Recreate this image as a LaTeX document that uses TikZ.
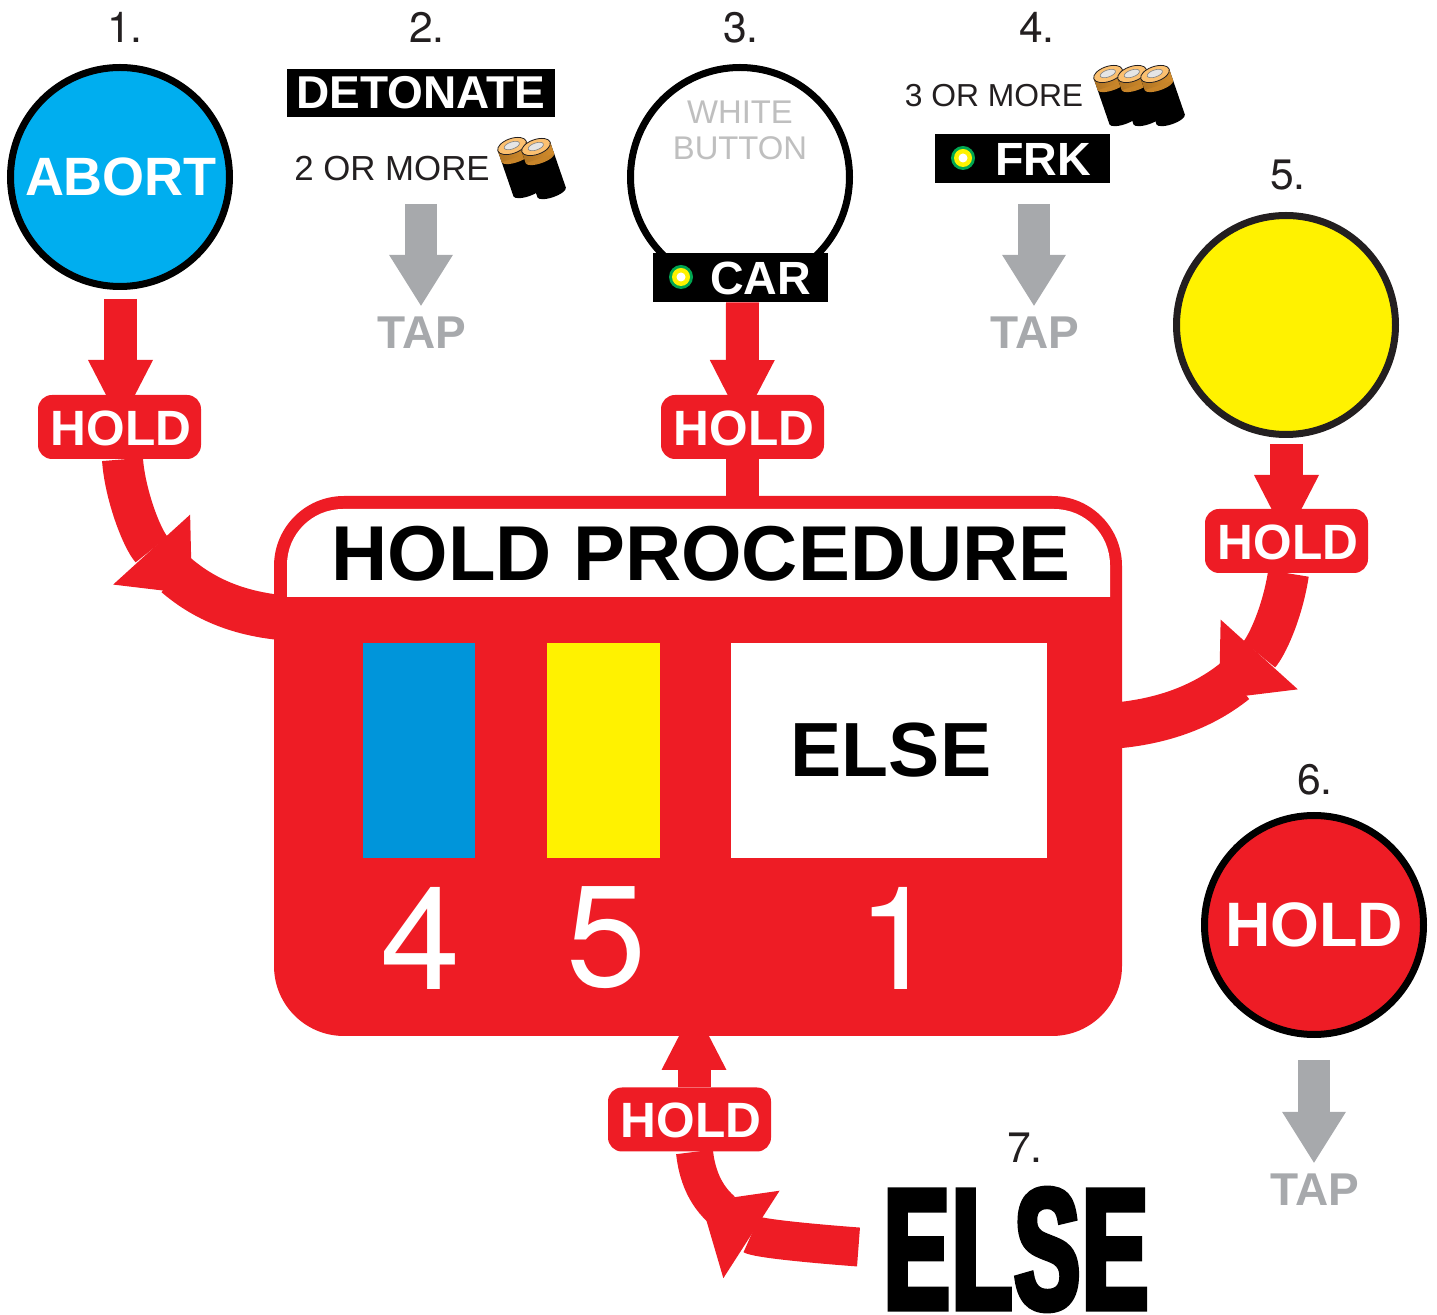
\documentclass[tikz,border=0pt]{standalone}
\usepackage{fontspec}
\setmainfont{Liberation Sans}
\newfontfamily\heavyfont[FakeBold=3.5,FakeStretch=0.57,LetterSpace=1.5]{Liberation Sans Bold}
\newfontfamily\digitfont{TeX Gyre Heros}
\usetikzlibrary{arrows.meta, backgrounds}
\definecolor{holdred}{HTML}{EE1C25}
\definecolor{tapgrey}{HTML}{A7A9AC}
\definecolor{ink}{HTML}{231F20}
\definecolor{abortblue}{HTML}{00AEEF}
\definecolor{stripblue}{HTML}{0095DA}
\definecolor{signyellow}{HTML}{FFF200}
\definecolor{litgreen}{HTML}{00A651}
\definecolor{cellorange}{HTML}{F9A533}
\tikzset{
    holdarrow/.style={draw=holdred, line width=16.5pt, -{Triangle[length=31.5pt,width=32.5pt,line width=0pt]}},
    holdbend/.style={draw=holdred, line width=#1, -{Triangle[length=30pt,width=52pt,line width=0pt]}},
    holdtail/.style={draw=holdred, line width=#1},
    taparrow/.style={draw=tapgrey, line width=16pt, -{Triangle[length=25.5pt,width=32pt,line width=0pt]}},
    holdlabel/.style={fill=holdred, text=white, font=\bfseries\fontsize{24.8}{26}\selectfont, rounded corners=7pt, minimum width=81.5pt, minimum height=32pt, inner sep=0pt, text height=18.5pt, execute at begin node=\hspace*{1.5pt}},
    taplabel/.style={text=tapgrey, font=\bfseries\fontsize{23}{25}\selectfont, inner sep=5.5pt},
    stepnum/.style={text=ink, font=\digitfont\fontsize{21.3}{23}\selectfont, inner sep=0pt},
    bigbutton/.style={circle, draw=#1, line width=3.5pt, minimum size=109.5pt, inner sep=0pt},
    darktag/.style={fill=black, text=white, inner sep=0pt, font=\bfseries\fontsize{23.3}{25}\selectfont},
    bigdigit/.style={text=white, inner sep=0pt, font=\digitfont\fontsize{72}{74}\selectfont},
    battery/.pic={
        \fill[black] (0,48) ellipse [x radius=15, y radius=5];
        \shade[left color=black, middle color=black!70, right color=black] (-15,0) rectangle (15,48);
        \fill[cellorange!80!black] (0,12) ellipse [x radius=15, y radius=5];
        \shade[left color=cellorange!70!black, middle color=cellorange, right color=cellorange!85!black] (-15,0) rectangle (15,12);
        \draw[ink, fill=cellorange!70!white, line width=0.4pt] (0,0) ellipse [x radius=15, y radius=7.5];
        \draw[black!50, fill=black!10, line width=0.3pt] (0,-0.5) ellipse [x radius=8, y radius=3.5];
    },
    litlamp/.pic={
        \fill[litgreen] (0,0) circle [radius=12];
        \fill[signyellow] (0,0) circle [radius=9];
        \fill[white] (0,0) circle [radius=4.5];
    }
}
\begin{document}
\begin{tikzpicture}[x=0.5pt, y=-0.5pt]
    \useasboundingbox (0,0) rectangle (1437,1315);

    % Step numbers
    \node[stepnum] (numA) at (125,27.5) {1.};
    \node[stepnum] (numB) at (427,27.5) {2.};
    \node[stepnum] (numC) at (741,27.5) {3.};
    \node[stepnum] (numD) at (1037,27.5) {4.};
    \node[stepnum] (numE) at (1288,175.5) {5.};
    \node[stepnum] (numF) at (1315,779.5) {6.};
    \node[stepnum] (numG) at (1025,1147.5) {7.};

    % Buttons
    \node[bigbutton=black, fill=abortblue, text=white, font=\bfseries\fontsize{27}{29}\selectfont] (abort) at (120,177) {\hspace*{1pt}ABORT};
    \node[bigbutton=black, fill=white] (white) at (740,177) {};
    \node[text=black!25, align=center, inner sep=0pt, font=\fontsize{16.4}{18}\selectfont] (whitetext) at (740,130) {WHITE\\BUTTON};
    \node[bigbutton=ink, fill=signyellow] (yellow) at (1286,325) {};
    \node[bigbutton=black, fill=holdred, text=white, font=\bfseries\fontsize{31.4}{33}\selectfont] (red) at (1314,925) {HOLD};

    % Indicators and batteries
    \node[darktag, minimum width=134pt, minimum height=24pt, font=\bfseries\fontsize{23}{24}\selectfont] (detonate) at (421,93) {DETONATE};
    \node[text=ink, inner sep=0pt, font=\fontsize{17.4}{19}\selectfont] (moreB) at (392,168.5) {2 OR MORE};
    \pic[rotate=19] at (512,146) {battery};
    \pic[rotate=19] at (536,147) {battery};
    \node[text=ink, inner sep=0pt, font=\fontsize{15.9}{18}\selectfont] (moreD) at (994,96) {3 OR MORE};
    \pic[rotate=19] at (1108,74) {battery};
    \pic[rotate=19] at (1132,74) {battery};
    \pic[rotate=19] at (1155,74) {battery};
    \node[darktag, minimum width=87.5pt, minimum height=24.5pt] (car) at (740.5,277.5) {};
    \node[darktag, fill=none] (carname) at (760.5,278) {CAR};
    \pic at (681,277) {litlamp};
    \node[darktag, minimum width=87.5pt, minimum height=24.5pt] (frk) at (1022.5,158.5) {};
    \node[darktag, fill=none] (frkname) at (1043,159) {FRK};
    \pic at (963,158) {litlamp};

    % Hold procedure box
    \node[fill=holdred, rounded corners=35pt, minimum width=424pt, minimum height=270pt, inner sep=0pt] (procbox) at (698,766) {};
    \fill[white] (287,597) [rounded corners=28pt] -- (287,509) -- (1110,509) [sharp corners] -- (1110,597) -- cycle;
    \node[text=black, inner sep=0pt, font=\bfseries\fontsize{38.9}{42}\selectfont] (proctitle) at (701,553.5) {HOLD PROCEDURE};
    \fill[stripblue] (363,643) rectangle (475,858);
    \fill[signyellow] (547,643) rectangle (660,858);
    \node[fill=white, text=black, inner sep=0pt, minimum width=158pt, minimum height=107.5pt, font=\bfseries\fontsize{38.4}{40}\selectfont] (elsebox) at (889,750.5) {\raisebox{-1pt}{\hspace*{2pt}ELSE}};
    \node[bigdigit] (digitA) at (421,938) {4};
    \node[bigdigit] (digitB) at (607,938) {5};
    \node[bigdigit] (digitC) at (898,938) {1};

    % Hold labels
    \node[holdlabel] (holdA) at (119.5,427) {HOLD};
    \node[holdlabel] (holdC) at (742.5,427) {HOLD};
    \node[holdlabel] (holdE) at (1286.5,541) {HOLD};
    \node[holdlabel] (holdG) at (689.5,1119.5) {HOLD};

    % Tap labels
    \node[taplabel] (tapB) at (422,333) {TAP};
    \node[taplabel] (tapD) at (1035,333) {TAP};
    \node[taplabel] (tapF) at (1315,1190) {TAP};

    % Bottom else
    \node[text=black, inner sep=0pt, font=\heavyfont\fontsize{86}{90}\selectfont] (elseword) at (1016,1249.5) {ELSE};

    % Free ends of the connectors
    \coordinate (startA) at (120.5,299);
    \coordinate (startE) at (1286.5,444);
    \coordinate (startB) at (421,204);
    \coordinate (startD) at (1034,204);
    \coordinate (startF) at (1314,1060);
    \coordinate (bendA) at (192,594);
    \coordinate (turnA) at (176,575);
    \coordinate (bendE) at (1219,699);
    \coordinate (turnE) at (1235,681);
    \coordinate (bendG) at (701,1202);
    \coordinate (turnG) at (722,1210);
    \coordinate (startG) at (858.5,1247);
    \coordinate (entryA) at (285,618);
    \coordinate (entryE) at (1110,726);
    \coordinate (tipA) at (120.5,423);
    \coordinate (tipC) at (742,423);
    \coordinate (tipE) at (1286.5,538);
    \coordinate (tipG) at (694,1007);

    \begin{scope}[on background layer]
    % Straight connectors
    \draw[holdarrow] (startA) -- (tipA);
    \draw[holdarrow] (holdC.center |- car.south) -- (tipC);
    \draw[holdtail=16.5pt] (holdC.south) -- (holdC.south |- procbox.north);
    \draw[holdarrow] (startE) -- (tipE);
    \draw[holdarrow] (holdG.north -| tipG) -- (tipG);
    \draw[taparrow] (startB) -- (tapB.north -| startB);
    \draw[taparrow] (startD) -- (tapD.north -| startD);
    \draw[taparrow] (startF) -- (tapF.north -| startF);

    % Curved connectors
    \draw[holdbend=20.5pt] ([xshift=1.5pt]holdA.south) .. controls (125,495) and (142,539) .. (bendA);
    \draw[holdtail=22.5pt] (turnA) .. controls (205,600) and (240,614) .. (entryA);
    \draw[holdbend=20.5pt] ([xshift=1pt]holdE.south) .. controls (1282,615) and (1266,647) .. (bendE);
    \draw[holdtail=23pt] (turnE) .. controls (1205,705) and (1165,722) .. (entryE);
    \draw[holdbend=19.5pt] (startG) .. controls (805,1243) and (757,1238) .. (bendG);
    \draw[holdtail=18.5pt] (turnG) .. controls (705,1195) and (697,1175) .. ([xshift=2.5pt]holdG.south);
    \end{scope}
\end{tikzpicture}
\end{document}
